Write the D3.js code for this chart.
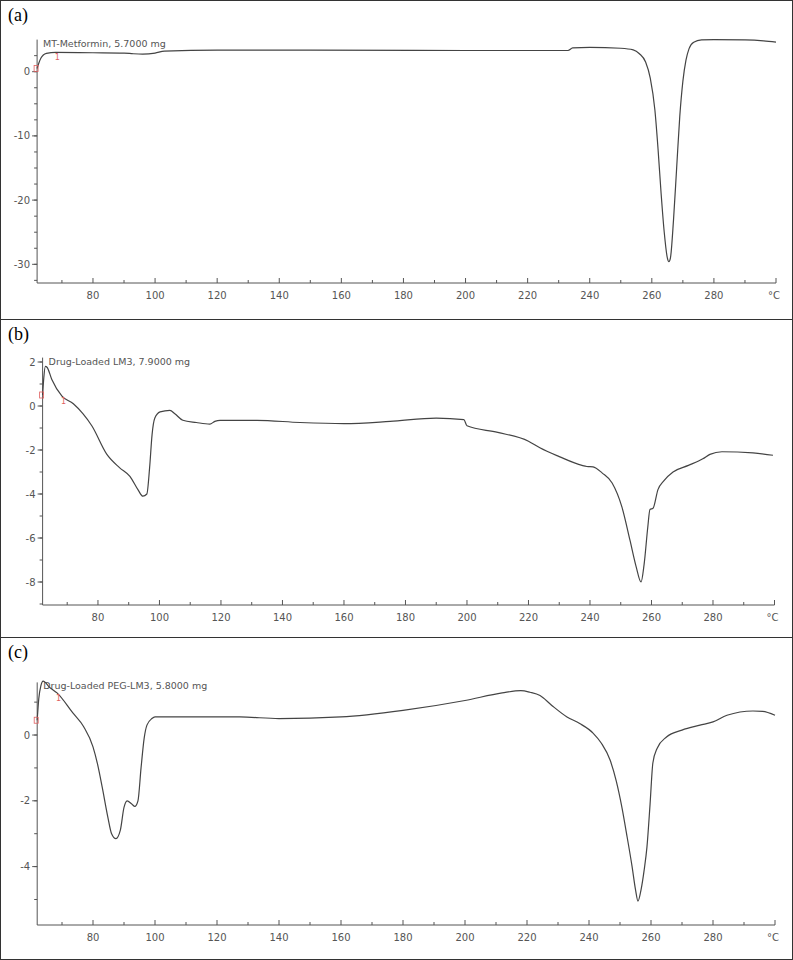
<!DOCTYPE html>
<html><head><meta charset="utf-8">
<script src="https://cdn.jsdelivr.net/npm/d3@7"></script>
<style>body{margin:0;background:#fff}</style></head>
<body><svg id="c" width="793" height="960"></svg>
<script>
const xTicks=[80,100,120,140,160,180,200,220,240,260,280];
const xMinor=[70,90,110,130,150,170,190,210,230,250,270,290];
const seriesA=[[62,0.5],[62.6,1.4],[63.2,2.1],[64,2.6],[65,2.85],[68,3.0],[80,2.95],[90,2.9],[93,2.8],[96,2.75],[100,2.9],[103,3.2],[120,3.35],[150,3.35],[200,3.3],[233,3.3],[234.5,3.7],[240,3.8],[250,3.65],[254,3.4],[256,2.8],[258,1.5],[259.5,-1],[261,-6],[262,-12],[263,-19],[264,-25],[265,-29],[265.5,-29.6],[266,-29],[267,-23],[268,-15],[269,-7],[270,-1.5],[271,1.8],[272,3.6],[273.5,4.6],[276,4.95],[280,5.0],[290,4.95],[296,4.8],[300,4.6]];
const seriesB=[[62,0.5],[62.4,1.3],[62.9,1.8],[63.5,1.75],[65,1.2],[68.3,0.45],[72,0.1],[75.1,-0.35],[78,-0.9],[82.9,-2.2],[87,-2.8],[90.4,-3.2],[93,-3.8],[94.6,-4.1],[95.9,-4.0],[96.8,-2.8],[97.6,-1.3],[98.5,-0.55],[100.2,-0.27],[103.4,-0.2],[105,-0.35],[107.6,-0.65],[112,-0.75],[116.4,-0.82],[118,-0.7],[119.7,-0.65],[131.7,-0.65],[145.7,-0.75],[160,-0.8],[175,-0.7],[190,-0.55],[199,-0.62],[200,-0.9],[210,-1.2],[220,-1.6],[223.7,-1.9],[230,-2.3],[237.4,-2.7],[239,-2.75],[241,-2.77],[244,-3.05],[247.2,-3.5],[250.4,-4.6],[253,-6.1],[255,-7.3],[256.6,-8.0],[257.6,-7.2],[258.8,-5.5],[259.5,-4.7],[260.5,-4.65],[262.1,-3.8],[264,-3.4],[267,-3.0],[272,-2.7],[276.7,-2.4],[279,-2.2],[282.9,-2.08],[293,-2.13],[299.5,-2.24]];
const seriesC=[[62,0.45],[62.5,1.1],[63.2,1.5],[63.9,1.64],[66,1.45],[68.4,1.28],[73.5,0.67],[77,0.25],[80,-0.36],[81.5,-0.9],[83,-1.6],[84.8,-2.5],[86,-3.0],[87.4,-3.15],[88.8,-2.9],[90,-2.2],[91,-2.0],[92.5,-2.1],[93.5,-2.17],[94.5,-2.0],[95.5,-1.0],[96.5,-0.1],[97.4,0.3],[99,0.5],[100,0.55],[127.4,0.55],[140,0.5],[160,0.55],[180,0.75],[200,1.05],[212,1.28],[218,1.35],[221,1.3],[224.2,1.2],[228,0.9],[232.9,0.55],[237,0.35],[241.3,0.06],[244,-0.25],[246.8,-0.76],[248.8,-1.4],[250.6,-2.19],[252.3,-3.1],[253.9,-4.0],[255,-4.7],[255.8,-5.05],[256.8,-4.7],[257.8,-4.1],[258.7,-3.4],[259.7,-2.1],[260.6,-0.85],[262,-0.4],[265,-0.06],[270,0.15],[275.8,0.3],[280,0.4],[284.5,0.6],[292.9,0.73],[296,0.72],[300,0.6]];
const panels=[
 {lab:"(a)",title:"MT-Metformin, 5.7000 mg",data:seriesA,yD:[-33.3,5],yR:[285.5,39.6],xR:[37.1,776],yT:[0,-10,-20,-30],yM:d3.range(-32.5,5,2.5),top:0,bot:319,axisY:283},
 {lab:"(b)",title:"Drug-Loaded LM3, 7.9000 mg",data:seriesB,yD:[-9,2.2],yR:[604,357.6],xR:[42.6,774.5],yT:[2,0,-2,-4,-6,-8],yM:d3.range(-9,2.5,1),top:319,bot:637,axisY:605},
 {lab:"(c)",title:"Drug-Loaded PEG-LM3, 5.8000 mg",data:seriesC,yD:[-5.8,1.6],yR:[925.8,682.4],xR:[37.2,775],yT:[0,-2,-4],yM:d3.range(-5,2,1),top:637,bot:959,axisY:925}
];
const svg=d3.select("#c");
svg.append("rect").attr("x",0.5).attr("y",0.5).attr("width",792).attr("height",959).attr("fill","none").attr("stroke","#333");
const ax="#555",tf="Tahoma, 'DejaVu Sans', sans-serif";
panels.forEach((p,i)=>{
 if(i>0) svg.append("line").attr("x1",0).attr("x2",793).attr("y1",p.top+0.5).attr("y2",p.top+0.5).attr("stroke","#333");
 svg.append("text").attr("x",8).attr("y",p.top+21).attr("font-family","'Times New Roman','Liberation Serif',serif").attr("font-size",18).text(p.lab);
 const x=d3.scaleLinear().domain([62,300]).range(p.xR);
 const y=d3.scaleLinear().domain(p.yD).range(p.yR);
 const g=svg.append("g");
 g.append("line").attr("x1",x(62)).attr("x2",x(62)).attr("y1",y(p.yD[1])).attr("y2",p.axisY).attr("stroke",ax);
 g.append("line").attr("x1",x(62)).attr("x2",x(300)).attr("y1",p.axisY).attr("y2",p.axisY).attr("stroke",ax);
 p.yM.forEach(v=>g.append("line").attr("x1",x(62)-3).attr("x2",x(62)).attr("y1",y(v)).attr("y2",y(v)).attr("stroke",ax));
 p.yT.forEach(v=>{g.append("line").attr("x1",x(62)-5).attr("x2",x(62)).attr("y1",y(v)).attr("y2",y(v)).attr("stroke",ax);
  g.append("text").attr("x",x(62)-7).attr("y",y(v)+3.5).attr("text-anchor","end").attr("font-family",tf).attr("font-size",10).attr("fill","#555").text(v);});
 xMinor.forEach(v=>g.append("line").attr("x1",x(v)).attr("x2",x(v)).attr("y1",p.axisY).attr("y2",p.axisY-3).attr("stroke",ax));
 xTicks.concat([300]).forEach(v=>g.append("line").attr("x1",x(v)).attr("x2",x(v)).attr("y1",p.axisY).attr("y2",p.axisY-5).attr("stroke",ax));
 xTicks.forEach(v=>g.append("text").attr("x",x(v)).attr("y",p.axisY+16).attr("text-anchor","middle").attr("font-family",tf).attr("font-size",10).attr("fill","#555").text(v));
 g.append("text").attr("x",x(300)-2).attr("y",p.axisY+16).attr("text-anchor","middle").attr("font-family",tf).attr("font-size",10).attr("fill","#555").text("°C");
 g.append("text").attr("x",x(62)+6).attr("y",y(p.yD[1])+7).attr("font-family",tf).attr("font-size",9.5).attr("fill","#555").text(p.title);
 const line=d3.line().x(d=>x(d[0])).y(d=>y(d[1])).curve(d3.curveMonotoneX);
 g.append("path").datum(p.data).attr("d",line).attr("fill","none").attr("stroke","#444").attr("stroke-width",1.2);
 const s=p.data[0];
 g.append("rect").attr("x",x(s[0])-3).attr("y",y(s[1])-3).attr("width",4).attr("height",6).attr("fill","none").attr("stroke","#e06060").attr("stroke-width",0.8);
 const m=p.data.find(d=>d[0]>=68);
 g.append("text").attr("x",x(m[0])-1).attr("y",y(m[1])+8).attr("font-family",tf).attr("font-size",8).attr("fill","#e06060").text("1");
});
</script></body></html>
